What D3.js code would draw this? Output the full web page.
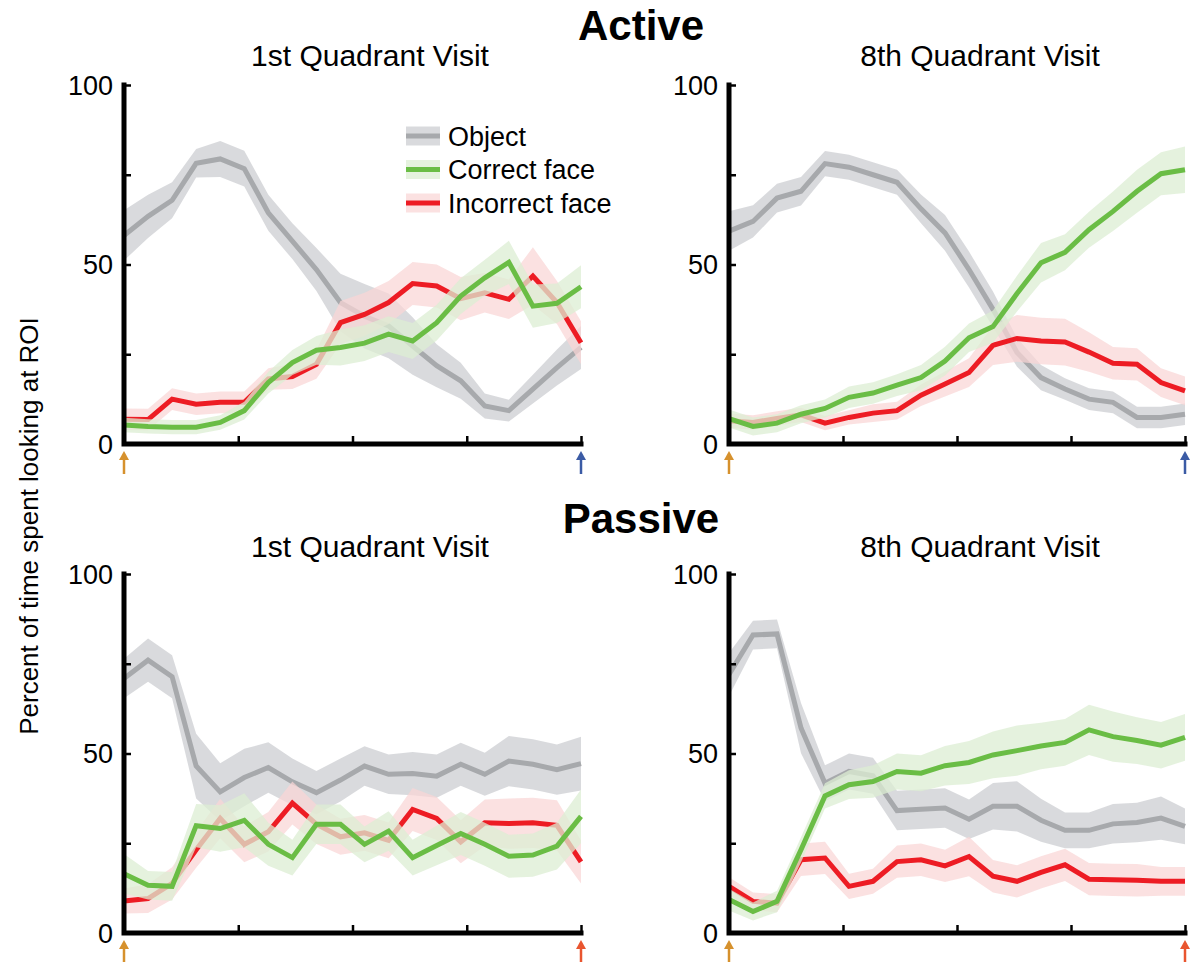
<!DOCTYPE html>
<html>
<head>
<meta charset="utf-8">
<script src="https://cdn.jsdelivr.net/npm/d3@7"></script>
<style>
  html, body { margin: 0; padding: 0; background: #fff; }
  svg { display: block; font-family: "Liberation Sans", Arial, Helvetica, sans-serif; }
</style>
</head>
<body>
<svg id="chart" width="1193" height="962"></svg>
<script>
// Percent of time spent looking at each region of interest, 20 time bins per visit.
// Active condition, 1st quadrant visit
const activeFirstObject     = [58.1, 63.4, 67.9, 78.2, 79.4, 76.7, 64.4, 56.5, 48.6, 39.4, 35.6, 32.9, 27.3, 21.8, 17.6, 10.6, 9.3, 15.3, 21.3, 26.9];
const activeFirstObjectSem  = [7.0, 6.0, 5.0, 4.0, 5.0, 5.0, 5.0, 5.0, 6.0, 8.0, 9.0, 9.0, 8.0, 6.0, 5.0, 3.5, 3.0, 4.0, 5.0, 6.0];
const activeFirstCorrect    = [5.3, 4.9, 4.7, 4.7, 6.0, 9.3, 17.1, 22.7, 26.1, 26.9, 28.1, 30.6, 28.7, 33.8, 41.2, 46.3, 50.6, 38.4, 39.2, 43.8];
const activeFirstCorrectSem = [2.0, 2.0, 2.0, 2.0, 2.0, 2.5, 3.0, 3.5, 4.0, 5.0, 5.0, 5.0, 5.0, 5.0, 5.0, 5.0, 6.0, 6.0, 5.5, 6.0];
const activeFirstIncorrect    = [6.9, 6.8, 12.5, 11.1, 11.6, 11.6, 18.1, 18.8, 22.2, 33.8, 36.1, 39.4, 44.7, 44.0, 40.5, 42.1, 40.3, 46.8, 39.4, 28.2];
const activeFirstIncorrectSem = [3.0, 3.0, 3.0, 3.0, 3.0, 3.0, 3.0, 3.5, 4.0, 6.0, 6.0, 6.0, 6.0, 6.0, 6.0, 5.5, 5.5, 8.0, 6.0, 6.0];

// Active condition, 8th quadrant visit
const activeEighthObject     = [59.3, 62.0, 68.5, 70.4, 78.1, 77.1, 75.0, 72.9, 65.5, 58.8, 48.6, 37.5, 25.5, 18.5, 15.3, 12.5, 11.6, 7.4, 7.4, 8.3];
const activeEighthObjectSem  = [5.5, 4.5, 4.0, 4.0, 3.5, 3.5, 3.5, 3.5, 4.0, 5.0, 5.0, 5.0, 4.0, 3.5, 3.0, 3.0, 3.0, 3.0, 3.0, 3.0];
const activeEighthCorrect    = [7.1, 4.9, 5.8, 8.3, 9.9, 13.0, 14.2, 16.4, 18.5, 23.1, 29.6, 32.7, 41.9, 50.5, 53.4, 59.7, 64.8, 70.4, 75.3, 76.4];
const activeEighthCorrectSem = [2.5, 2.5, 2.5, 2.5, 2.5, 3.0, 3.0, 3.0, 3.5, 4.0, 4.0, 4.5, 5.0, 5.5, 5.0, 5.0, 5.5, 6.0, 6.0, 6.5];
const activeEighthIncorrect    = [6.5, 6.0, 7.1, 8.1, 5.8, 7.4, 8.6, 9.3, 13.6, 16.7, 19.9, 27.5, 29.4, 28.7, 28.4, 25.6, 22.5, 22.2, 17.1, 14.8];
const activeEighthIncorrectSem = [2.0, 2.0, 2.0, 2.0, 2.0, 2.0, 2.5, 2.5, 3.0, 3.5, 4.0, 5.5, 6.5, 6.5, 6.5, 5.5, 4.5, 4.5, 4.0, 4.0];

// Passive condition, 1st quadrant visit
const passiveFirstObject     = [70.9, 76.0, 71.4, 46.5, 39.3, 43.3, 46.1, 42.1, 39.1, 42.6, 46.5, 44.2, 44.4, 43.7, 47.0, 44.2, 47.9, 47.0, 45.5, 47.2];
const passiveFirstObjectSem  = [5.5, 6.0, 6.0, 9.0, 8.0, 8.0, 7.0, 6.5, 6.0, 6.0, 5.5, 5.5, 6.0, 6.0, 6.0, 6.0, 7.0, 7.0, 7.0, 7.5];
const passiveFirstCorrect    = [16.5, 13.3, 13.0, 29.9, 29.1, 31.4, 24.7, 21.0, 30.3, 30.3, 24.7, 28.4, 21.0, 24.4, 27.7, 24.7, 21.4, 21.7, 24.2, 32.5];
const passiveFirstCorrectSem = [5.5, 4.0, 4.0, 6.0, 6.5, 7.5, 6.0, 5.0, 5.5, 5.5, 5.0, 5.5, 5.0, 5.5, 6.0, 6.0, 6.0, 6.0, 6.5, 7.5];
const passiveFirstIncorrect    = [8.9, 9.6, 13.8, 23.2, 31.9, 24.7, 28.2, 36.2, 30.3, 26.8, 27.9, 25.8, 34.4, 31.9, 25.4, 30.7, 30.5, 30.7, 30.0, 19.8];
const passiveFirstIncorrectSem = [3.5, 4.0, 4.5, 5.0, 5.5, 5.0, 5.5, 6.0, 5.5, 5.0, 5.0, 5.0, 6.0, 6.0, 6.0, 6.5, 7.0, 7.0, 7.0, 6.0];

// Passive condition, 8th quadrant visit
const passiveEighthObject     = [72.0, 83.0, 83.3, 57.1, 41.7, 45.0, 43.8, 34.1, 34.5, 34.8, 31.7, 35.3, 35.3, 31.4, 28.6, 28.6, 30.4, 30.8, 32.0, 29.7];
const passiveEighthObjectSem  = [6.0, 4.0, 4.0, 7.0, 5.0, 5.0, 5.0, 5.5, 5.5, 5.5, 5.5, 6.5, 7.0, 6.0, 5.0, 5.0, 5.5, 5.5, 6.0, 5.0];
const passiveEighthCorrect    = [9.3, 6.0, 8.8, 23.2, 38.2, 41.3, 42.2, 45.0, 44.5, 46.6, 47.5, 49.6, 50.8, 52.1, 53.1, 56.6, 54.7, 53.6, 52.3, 54.5];
const passiveEighthCorrectSem = [3.0, 2.5, 3.0, 3.5, 3.5, 4.0, 4.5, 5.0, 5.0, 5.5, 6.0, 6.5, 7.0, 6.5, 6.5, 7.0, 7.0, 6.5, 6.5, 6.5];
const passiveEighthIncorrect    = [13.0, 8.8, 8.3, 20.4, 20.9, 13.0, 14.4, 19.9, 20.4, 18.7, 21.3, 15.8, 14.4, 16.9, 19.0, 15.0, 14.8, 14.7, 14.4, 14.4];
const passiveEighthIncorrectSem = [2.5, 2.5, 2.5, 4.5, 4.5, 3.5, 3.5, 4.5, 4.5, 4.5, 5.5, 4.5, 4.5, 4.5, 4.5, 4.5, 4.5, 4.5, 4.0, 4.0];

// Axis ticks (y in percent, x as fraction of the visit)
const yTicks = [0, 25, 50, 75, 100];
const yTickLabels = ["0", "", "50", "", "100"];
const xTicks = [0.25, 0.5, 0.75, 1];

const seriesNames = ["Object", "Correct face", "Incorrect face"];
const conditionTitles = ["Active", "Passive"];
const visitTitles = ["1st Quadrant Visit", "8th Quadrant Visit"];
const yAxisTitle = "Percent of time spent looking at ROI";

// Styling
const lineColor = { object: "#a7a9ac", correct: "#6abd45", incorrect: "#ed1c24" };
const bandColor = { object: "#cfd1d4", correct: "#dcedd3", incorrect: "#f9d6d6" };
const bandOpacity = { object: 0.8, correct: 0.75, incorrect: 0.72 };
const arrowStart = "#d6912d";

const panels = [
  { row: 0, col: 0, visit: 0, endArrow: "#3b5ba5", legend: true,
    object: activeFirstObject, objectSem: activeFirstObjectSem,
    correct: activeFirstCorrect, correctSem: activeFirstCorrectSem,
    incorrect: activeFirstIncorrect, incorrectSem: activeFirstIncorrectSem },
  { row: 0, col: 1, visit: 1, endArrow: "#3b5ba5",
    object: activeEighthObject, objectSem: activeEighthObjectSem,
    correct: activeEighthCorrect, correctSem: activeEighthCorrectSem,
    incorrect: activeEighthIncorrect, incorrectSem: activeEighthIncorrectSem },
  { row: 1, col: 0, visit: 0, endArrow: "#e9552f",
    object: passiveFirstObject, objectSem: passiveFirstObjectSem,
    correct: passiveFirstCorrect, correctSem: passiveFirstCorrectSem,
    incorrect: passiveFirstIncorrect, incorrectSem: passiveFirstIncorrectSem },
  { row: 1, col: 1, visit: 1, endArrow: "#e9552f",
    object: passiveEighthObject, objectSem: passiveEighthObjectSem,
    correct: passiveEighthCorrect, correctSem: passiveEighthCorrectSem,
    incorrect: passiveEighthIncorrect, incorrectSem: passiveEighthIncorrectSem }
];

// Layout
const colX = [[124, 581], [729, 1185]];
const rowY = [[85, 444], [574, 933]];
const conditionTitleY = [40, 533];
const visitTitleY = [66, 557];
const visitTitleX = [370, 980];

const svg = d3.select("#chart");

// Section headings
conditionTitles.forEach((t, r) => {
  svg.append("text")
    .attr("x", 641).attr("y", conditionTitleY[r])
    .attr("text-anchor", "middle")
    .attr("font-size", 42).attr("font-weight", "bold")
    .text(t);
});

// Shared y-axis title
svg.append("text")
  .attr("transform", "translate(38,526) rotate(-90)")
  .attr("text-anchor", "middle")
  .attr("font-size", 26)
  .text(yAxisTitle);

panels.forEach(p => {
  const [x0, x1] = colX[p.col];
  const [yTop, yBottom] = rowY[p.row];
  const x = d3.scaleLinear().domain([0, 1]).range([x0, x1]);
  const y = d3.scaleLinear().domain([0, 100]).range([yBottom, yTop]);
  const n = p.object.length;
  const t = i => i / (n - 1);

  const g = svg.append("g");

  // Visit title
  g.append("text")
    .attr("x", visitTitleX[p.col]).attr("y", visitTitleY[p.row])
    .attr("text-anchor", "middle")
    .attr("font-size", 30)
    .text(visitTitles[p.visit]);

  const area = d3.area()
    .x((d, i) => x(t(i)))
    .y0(d => y(d[0] - d[1]))
    .y1(d => y(d[0] + d[1]));
  const line = d3.line()
    .x((d, i) => x(t(i)))
    .y(d => y(d));

  // Each series: shaded band (mean ± SEM), then its mean line
  ["object", "incorrect", "correct"].forEach(key => {
    const vals = p[key];
    const sem = p[key + "Sem"];
    g.append("path")
      .attr("d", area(vals.map((v, i) => [v, sem[i]])))
      .attr("fill", bandColor[key])
      .attr("fill-opacity", bandOpacity[key]);
    g.append("path")
      .attr("d", line(vals))
      .attr("fill", "none")
      .attr("stroke", lineColor[key])
      .attr("stroke-width", 5)
      .attr("stroke-linejoin", "miter");
  });

  // Axes
  const yAxis = d3.axisRight(y).tickValues(yTicks).tickSize(7).tickFormat("");
  const yG = g.append("g").attr("transform", `translate(${x0},0)`).call(yAxis);
  const xAxis = d3.axisTop(x).tickValues(xTicks).tickSize(8).tickFormat("");
  const xG = g.append("g").attr("transform", `translate(0,${yBottom})`).call(xAxis);
  [yG, xG].forEach(a => {
    a.select(".domain").remove();
    a.selectAll(".tick line").attr("stroke", "#000").attr("stroke-width", 2.5);
  });
  g.append("path")
    .attr("d", `M${x0},${y(100)}V${yBottom}H${x1}`)
    .attr("fill", "none")
    .attr("stroke", "#000")
    .attr("stroke-width", 5)
    .attr("stroke-linejoin", "miter")
    .attr("stroke-linecap", "square");

  // Y tick labels
  g.selectAll(".ylab")
    .data(yTicks.map((v, i) => ({ v, label: yTickLabels[i] })).filter(d => d.label))
    .enter().append("text")
    .attr("x", x0 - 11)
    .attr("y", d => y(d.v))
    .attr("dy", "0.36em")
    .attr("text-anchor", "end")
    .attr("font-size", 27)
    .text(d => d.label);

  // Start / end markers under the time axis
  const arrow = (ax, color) => {
    const tip = yBottom + 7;
    const tail = yBottom + 30;
    g.append("line")
      .attr("x1", ax).attr("x2", ax)
      .attr("y1", tip + 5).attr("y2", tail)
      .attr("stroke", color).attr("stroke-width", 2.5);
    g.append("path")
      .attr("d", `M${ax},${tip}L${ax - 5},${tip + 9}L${ax + 5},${tip + 9}Z`)
      .attr("fill", color);
  };
  arrow(x(0), arrowStart);
  arrow(x(1), p.endArrow);

  // Legend
  if (p.legend) {
    const keys = ["object", "correct", "incorrect"];
    keys.forEach((key, i) => {
      const cy = 136 + i * 33.5;
      g.append("rect")
        .attr("x", 406).attr("y", cy - 9.5)
        .attr("width", 34).attr("height", 19)
        .attr("fill", bandColor[key])
        .attr("fill-opacity", bandOpacity[key]);
      g.append("line")
        .attr("x1", 406).attr("x2", 440)
        .attr("y1", cy).attr("y2", cy)
        .attr("stroke", lineColor[key])
        .attr("stroke-width", 5);
      g.append("text")
        .attr("x", 448).attr("y", cy)
        .attr("dy", "0.36em")
        .attr("font-size", 27)
        .text(seriesNames[i]);
    });
  }
});
</script>
</body>
</html>
